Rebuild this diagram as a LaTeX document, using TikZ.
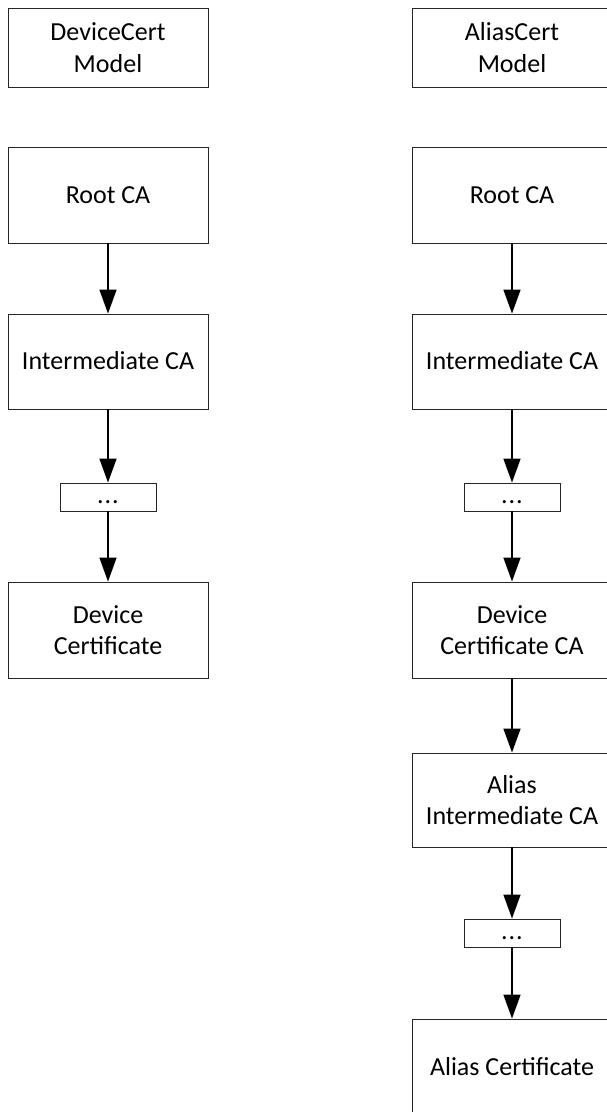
\documentclass[tikz,border=0pt]{standalone}
\usepackage{fontspec}
\setmainfont{Carlito}
\usetikzlibrary{arrows.meta}
\begin{document}
\begin{tikzpicture}[x=1pt,y=-1pt,
  box/.style={draw=black!85,line width=0.9pt,rectangle,inner sep=0pt,minimum width=200pt,align=center,
    font=\fontsize{26}{31.7}\selectfont},
  onebox/.style={box,text height=21pt,text depth=4.6pt},
  dotbox/.style={box,minimum width=96pt,minimum height=28pt,text height=18pt,text depth=6pt},
  link/.style={line width=1.6pt,-{Triangle[width=17pt,length=24pt]}}]
\useasboundingbox (0,0) rectangle (607,1112);
\clip (0,0) rectangle (607,1112);
% left column
\node[box,minimum height=79pt] (m1) at (108,47.5) {DeviceCert\\Model};
\node[onebox,minimum height=96pt] (r1) at (108,195) {Root CA};
\node[onebox,minimum height=95pt] (i1) at (108,361.5) {Intermediate CA};
\node[dotbox] (d1) at (108,497) {.\kern1pt.\kern1pt.};
\node[box,minimum height=96pt] (c1) at (108,630) {Device\\Certificate};
% right column
\node[box,minimum height=79pt] (m2) at (512,47.5) {AliasCert\\Model};
\node[onebox,minimum height=96pt] (r2) at (512,195) {Root CA};
\node[onebox,minimum height=95pt] (i2) at (512,361.5) {Intermediate CA};
\node[dotbox] (d2) at (512,497) {.\kern1pt.\kern1pt.};
\node[box,minimum height=96pt] (c2) at (512,630) {Device\\Certificate CA};
\node[box,minimum height=94pt] (a2) at (512,800) {Alias\\Intermediate CA};
\node[dotbox] (d3) at (512,933) {.\kern1pt.\kern1pt.};
\node[onebox,minimum height=96pt] (f2) at (512,1067) {Alias Certificate};
% connectors
\draw[link] (r1) -- (i1);
\draw[link] (i1) -- (d1);
\draw[link] (d1) -- (c1);
\draw[link] (r2) -- (i2);
\draw[link] (i2) -- (d2);
\draw[link] (d2) -- (c2);
\draw[link] (c2) -- (a2);
\draw[link] (a2) -- (d3);
\draw[link] (d3) -- (f2);
\end{tikzpicture}
\end{document}
